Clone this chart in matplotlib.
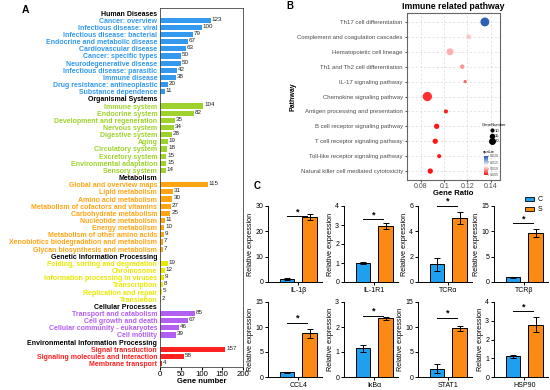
import numpy as np
import matplotlib
matplotlib.use('Agg')
import matplotlib.pyplot as plt
from matplotlib.colors import LinearSegmentedColormap, Normalize
from matplotlib.lines import Line2D
from matplotlib.patches import Patch

plt.rcParams['font.family'] = ['Liberation Sans', 'DejaVu Sans']

# ---- panel A data: KEGG classes ----
hd_terms = ['Cancer: overview', 'Infectious disease: viral', 'Infectious disease: bacterial',
            'Endocrine and metabolic disease', 'Cardiovascular disease', 'Cancer: specific types',
            'Neurodegenerative disease', 'Infectious disease: parasitic', 'Immune disease',
            'Drug resistance: antineoplastic', 'Substance dependence']
hd_vals = [123, 100, 79, 67, 63, 50, 50, 42, 38, 20, 11]
os_terms = ['Immune system', 'Endocrine system', 'Development and regeneration', 'Nervous system',
            'Digestive system', 'Aging', 'Circulatory system', 'Excretory system',
            'Environmental adaptation', 'Sensory system']
os_vals = [104, 82, 35, 34, 28, 19, 18, 15, 15, 14]
me_terms = ['Global and overview maps', 'Lipid metabolism', 'Amino acid metabolism',
            'Metabolism of cofactors and vitamins', 'Carbohydrate metabolism', 'Nucleotide metabolism',
            'Energy metabolism', 'Metabolism of other amino acids',
            'Xenobiotics biodegradation and metabolism', 'Glycan biosynthesis and metabolism']
me_vals = [115, 31, 30, 27, 25, 11, 10, 9, 7, 7]
gi_terms = ['Folding, sorting and degradation', 'Chromosome', 'Information processing in viruses',
            'Transcription', 'Replication and repair', 'Translation']
gi_vals = [19, 12, 9, 8, 5, 2]
cp_terms = ['Transport and catabolism', 'Cell growth and death', 'Cellular community - eukaryotes',
            'Cell motility']
cp_vals = [85, 67, 46, 39]
ei_terms = ['Signal transduction', 'Signaling molecules and interaction', 'Membrane transport']
ei_vals = [157, 58, 4]

groups = [('Human Diseases', hd_terms, hd_vals, '#3399ee'),
          ('Organismal Systems', os_terms, os_vals, '#9fd22c'),
          ('Metabolism', me_terms, me_vals, '#ffa514'),
          ('Genetic Information Processing', gi_terms, gi_vals, '#e8e800'),
          ('Cellular Processes', cp_terms, cp_vals, '#b25ff2'),
          ('Environmental Information Processing', ei_terms, ei_vals, '#ff2020')]

# ---- panel B data ----
pathways = ['Th17 cell differentiation', 'Complement and coagulation cascades',
            'Hematopoietic cell lineage', 'Th1 and Th2 cell differentiation',
            'IL-17 signaling pathway', 'Chemokine signaling pathway',
            'Antigen processing and presentation', 'B cell receptor signaling pathway',
            'T cell receptor signaling pathway', 'Toll-like receptor signaling pathway',
            'Natural killer cell mediated cytotoxicity']
gene_ratio = [0.135, 0.121, 0.105, 0.1155, 0.118, 0.0855, 0.1015, 0.0935, 0.0923, 0.0957, 0.088]
gene_number = [22, 12, 17, 11, 8, 23, 10, 13, 13, 10, 13]
qvalue = [0.0195, 0.0108, 0.0100, 0.0092, 0.0078, 0.0060, 0.0055, 0.0052, 0.0052, 0.0052, 0.0050]

# ---- panel C data ----
genes = ['IL-1β', 'IL-1R1', 'TCRα', 'TCRβ', 'CCL4', 'IκBα', 'STAT1', 'HSP90']
c_mean = [1.2, 1.0, 1.4, 0.9, 1.0, 1.15, 1.7, 1.1]
c_err = [0.4, 0.05, 0.5, 0.1, 0.1, 0.15, 0.9, 0.1]
s_mean = [25.8, 2.95, 5.05, 9.6, 8.8, 2.35, 9.8, 2.8]
s_err = [1.2, 0.15, 0.45, 0.8, 0.9, 0.05, 0.5, 0.4]
y_max = [30, 4, 6, 15, 15, 3, 15, 4]
y_step = [10, 1, 2, 5, 5, 1, 5, 1]
sig_y = [26.0, 3.3, 6.0, 11.6, 10.8, 2.45, 11.8, 3.5]

W, H = 550, 390
fig = plt.figure(figsize=(5.5, 3.9), dpi=100)

def box(l, t, r, b):
    return [l / W, 1 - b / H, (r - l) / W, (b - t) / H]

# ================= A =================
axA = fig.add_axes(box(160, 8, 243, 367))
labels, vals, cols, tcols = [], [], [], []
for header, terms, vv, col in groups:
    labels.append(header); vals.append(0); cols.append(col); tcols.append('black')
    for t, v in zip(terms, vv):
        labels.append(t); vals.append(v); cols.append(col); tcols.append(col)
pos = np.arange(len(labels))
axA.barh(pos, vals, height=0.72, color=cols)
for p, v in zip(pos, vals):
    if tcols[p] != 'black':
        axA.text(v + 2, p - 0.15, str(v), fontsize=4.5, va='center', ha='left', color='#222222')
axA.set_yticks(pos)
axA.set_yticklabels(labels, fontsize=5, fontweight='bold')
for lab, c in zip(axA.get_yticklabels(), tcols):
    lab.set_color(c)
axA.tick_params(axis='y', length=0, pad=2)
axA.set_ylim(49.48, -0.7)
axA.set_xlim(0, 200)
axA.set_xticks([0, 50, 100, 150, 200])
axA.tick_params(axis='x', labelsize=5.6, length=2, pad=1)
axA.set_xlabel('Gene number', fontsize=5.5, fontweight='bold', labelpad=0)
for s in axA.spines.values():
    s.set_linewidth(0.6); s.set_color('#444444')
fig.text(25 / W, 1 - 10 / H, 'A', fontsize=7.5, fontweight='bold', ha='center', va='center')

# ================= B =================
axB = fig.add_axes(box(407, 13, 500, 180))
cmap = LinearSegmentedColormap.from_list('rwb', ['#ff1010', '#ffffff', '#1f55b0'])
norm = Normalize(0.005, 0.020)

def msize(n):
    d = (3.3 + (n - 8) * 0.4) * 0.72
    return d * d

yB = np.arange(len(pathways))
axB.scatter(gene_ratio, yB, s=[msize(n) for n in gene_number], c=qvalue, cmap=cmap, norm=norm,
            linewidths=0, zorder=3)
axB.set_ylim(10.6, -0.6)
axB.set_xlim(0.068, 0.148)
axB.set_xticks([0.08, 0.10, 0.12, 0.14])
axB.set_xticklabels(['0.08', '0.1', '0.12', '0.14'])
axB.set_yticks(yB)
axB.set_yticklabels(pathways)
axB.tick_params(axis='y', labelsize=4.3, labelcolor='#4d4d4d', length=1.5, pad=1.5, color='#555555')
axB.tick_params(axis='x', labelsize=5, labelcolor='#4d4d4d', length=1.5, pad=1, color='#555555')
axB.grid(True, linestyle=(0, (3, 3)), color='#d9d9d9', linewidth=0.5)
axB.set_axisbelow(True)
for s in axB.spines.values():
    s.set_linewidth(0.8); s.set_color('#666666')
axB.set_xlabel('Gene Ratio', fontsize=5.5, fontweight='bold', labelpad=0)
axB.set_ylabel('Pathway', fontsize=5, fontweight='bold', labelpad=1)
axB.set_title('Immune related pathway', fontsize=6.3, fontweight='bold', pad=3)
fig.text(290 / W, 1 - 6 / H, 'B', fontsize=7, fontweight='bold', ha='center', va='center')

handles = [Line2D([], [], marker='o', linestyle='', color='black',
                  markersize=np.sqrt(msize(n)) * 0.68, label=str(n)) for n in [10, 15, 20]]
leg = axB.legend(handles=handles, title='GeneNumber', loc='upper left',
                 bbox_to_anchor=(480 / W, 1 - 121 / H), bbox_transform=fig.transFigure,
                 frameon=False, fontsize=3, title_fontsize=3, handletextpad=0.2,
                 labelspacing=0.35, handlelength=1.0, borderpad=0)
cax = fig.add_axes(box(484, 156, 487.5, 175))
cb = fig.colorbar(plt.cm.ScalarMappable(norm=norm, cmap=cmap), cax=cax)
cb.set_ticks([0.005, 0.010, 0.015, 0.020])
cb.set_ticklabels(['0.005', '0.010', '0.015', '0.020'])
cb.ax.tick_params(labelsize=2.6, length=0.8, width=0.3, pad=0.8, labelcolor='#555555')
cb.outline.set_visible(False)
fig.text(483 / W, 1 - 152 / H, 'qvalue', fontsize=3, ha='left', va='center')

# ================= C =================
blue, orange = '#1e9ff0', '#fb8a15'
lefts = [268, 344, 418, 494]
rows = [(206, 282), (302, 377)]
for i, g in enumerate(genes):
    r, c = divmod(i, 4)
    top, bot = rows[r]
    ax = fig.add_axes(box(lefts[c], top, lefts[c] + 54, bot))
    ax.bar([0, 1], [c_mean[i], s_mean[i]], width=0.65, color=[blue, orange],
           edgecolor='black', linewidth=0.7, zorder=2)
    ax.errorbar([0, 1], [c_mean[i], s_mean[i]], yerr=[c_err[i], s_err[i]], fmt='none',
                ecolor='black', elinewidth=0.7, capsize=2.5, capthick=0.7, zorder=3)
    ax.plot([0, 0.9], [sig_y[i], sig_y[i]], color='black', linewidth=0.7)
    ax.text(0.45, sig_y[i], '*', fontsize=6.5, ha='center', va='bottom', fontweight='bold')
    ax.set_xlim(-0.85, 1.55)
    ax.set_ylim(0, y_max[i])
    ax.set_yticks(np.arange(0, y_max[i] + 0.01, y_step[i]))
    ax.set_xticks([0.5])
    ax.set_xticklabels([g])
    ax.tick_params(labelsize=5, length=2, width=0.7, pad=1.5)
    ax.set_ylabel('Relative expression', fontsize=5.2, labelpad=1)
    for s in ['top', 'right']:
        ax.spines[s].set_visible(False)
    for s in ['left', 'bottom']:
        ax.spines[s].set_linewidth(0.7)
fig.text(257 / W, 1 - 186 / H, 'C', fontsize=7, fontweight='bold', ha='center', va='center')
fig.legend(handles=[Patch(facecolor=blue, edgecolor='black', linewidth=0.6, label='C'),
                    Patch(facecolor=orange, edgecolor='black', linewidth=0.6, label='S')],
           loc='upper left', bbox_to_anchor=(522 / W, 1 - 193 / H), frameon=False, fontsize=5,
           handlelength=1.2, handleheight=0.6, handletextpad=0.5, labelspacing=0.4, borderpad=0)

fig.savefig('out.png', dpi=100, facecolor='white')
